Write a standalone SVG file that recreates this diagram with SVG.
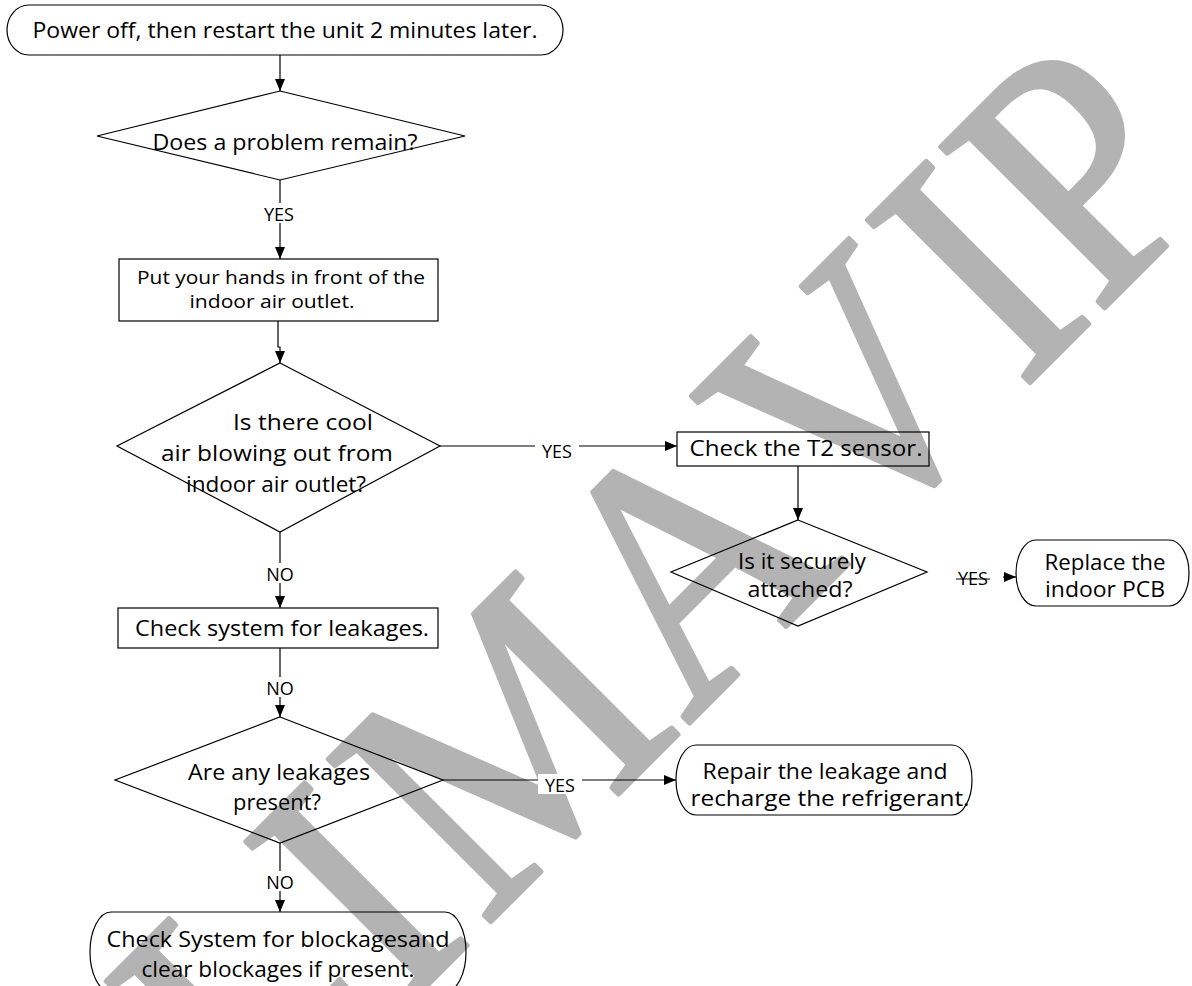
<svg xmlns="http://www.w3.org/2000/svg" width="1192" height="986" viewBox="0 0 1192 986">
<style>
.wm{font-family:"Liberation Serif","Times New Roman",serif;font-size:351px;fill:#b3b3b3;stroke:#b3b3b3;stroke-width:5;stroke-linejoin:round}
.sh{fill:none;stroke:#000;stroke-width:1.2}
.t{font-family:"Open Sans","Noto Sans",sans-serif;font-size:21.5px;fill:#000;text-anchor:middle}
.s{font-size:19px}
.lb{font-family:"Open Sans","Noto Sans",sans-serif;font-size:18px;fill:#000;text-anchor:middle}
.ln{fill:none;stroke:#000;stroke-width:1.2}
.bg{fill:#fff}
</style>
<defs>
<marker id="ar" viewBox="0 0 12 10" markerWidth="12" markerHeight="10" refX="12" refY="5" orient="auto" markerUnits="userSpaceOnUse">
<path d="M0,0 L12,5 L0,10 z" fill="#000"/>
</marker>
</defs>
<rect width="1192" height="986" fill="#fff"/>
<g id="watermark">
<text class="wm" transform="rotate(-45) translate(-628,998.8) scale(0.909,1)">L</text>
<text class="wm" transform="rotate(-45) translate(-433,998.8) scale(0.909,1)">I</text>
<text class="wm" transform="rotate(-45) translate(-314,998.8) scale(0.909,1)">M</text>
<text class="wm" transform="rotate(-45) translate(-27,998.8) scale(0.909,1)">A</text>
<text class="wm" transform="rotate(-45) translate(205,998.8) scale(0.909,1)">V</text>
<text class="wm" transform="rotate(-45) translate(446,998.8) scale(0.909,1)">I</text>
<text class="wm" transform="rotate(-45) translate(552,998.8) scale(0.909,1)">P</text>
</g>
<g id="connectors">
<path class="ln" d="M280,55 V91" marker-end="url(#ar)"/>
<path class="ln" d="M280,180 V259" marker-end="url(#ar)"/>
<path class="ln" d="M278,321 V347 H280 V363" marker-end="url(#ar)"/>
<path class="ln" d="M440,446 H677" marker-end="url(#ar)"/>
<path class="ln" d="M798,466 V520" marker-end="url(#ar)"/>
<path class="ln" d="M956,579 H990"/>
<path class="ln" d="M1003,577 H1016" marker-end="url(#ar)"/>
<path class="ln" d="M280,532 V608" marker-end="url(#ar)"/>
<path class="ln" d="M280,648 V717" marker-end="url(#ar)"/>
<path class="ln" d="M443,780 H676" marker-end="url(#ar)"/>
<path class="ln" d="M280,843 V912" marker-end="url(#ar)"/>
<rect class="bg" x="259" y="203" width="40" height="20"/>
<text class="lb" x="279" y="221">YES</text>
<rect class="bg" x="535" y="440" width="44" height="20"/>
<text class="lb" x="557" y="458">YES</text>
<text class="lb" x="973" y="585">YES</text>
<rect class="bg" x="262" y="563" width="36" height="20"/>
<text class="lb" x="280" y="581">NO</text>
<rect class="bg" x="262" y="677" width="36" height="20"/>
<text class="lb" x="280" y="695">NO</text>
<rect class="bg" x="538" y="774" width="44" height="20"/>
<text class="lb" x="560" y="792">YES</text>
<rect class="bg" x="262" y="871" width="36" height="20"/>
<text class="lb" x="280" y="889">NO</text>
</g>
<g id="start">
<path class="sh" d="M29,5 H541 A22,25 0 0 1 541,55 H29 A22,25 0 0 1 29,5 Z"/>
<text class="t" x="285" y="38" textLength="505" lengthAdjust="spacingAndGlyphs">Power off, then restart the unit 2 minutes later.</text>
</g>
<g id="q1">
<path class="sh" d="M280,91 L465,136 L280,180 L97,136 Z"/>
<text class="t" x="285" y="150" textLength="265" lengthAdjust="spacingAndGlyphs">Does a problem remain?</text>
</g>
<g id="hands">
<rect class="sh" x="119" y="259" width="319" height="62"/>
<text class="t s" x="281" y="284" textLength="288" lengthAdjust="spacingAndGlyphs">Put your hands in front of the</text>
<text class="t s" x="272" y="308" textLength="165" lengthAdjust="spacingAndGlyphs">indoor air outlet.</text>
</g>
<g id="q2">
<path class="sh" d="M280,363 L440,446 L280,532 L117,446 Z"/>
<text class="t" x="303" y="430" textLength="140" lengthAdjust="spacingAndGlyphs">Is there cool</text>
<text class="t" x="277" y="461" textLength="232" lengthAdjust="spacingAndGlyphs">air blowing out from</text>
<text class="t" x="276" y="492" textLength="180" lengthAdjust="spacingAndGlyphs">indoor air outlet?</text>
</g>
<g id="t2">
<rect class="sh" x="677" y="432" width="252" height="34"/>
<text class="t" x="806" y="456" textLength="233" lengthAdjust="spacingAndGlyphs">Check the T2 sensor.</text>
</g>
<g id="q3">
<path class="sh" d="M798,520 L927,572 L798,626 L671,572 Z"/>
<text class="t" x="802" y="569" textLength="128" lengthAdjust="spacingAndGlyphs">Is it securely</text>
<text class="t" x="800" y="597" textLength="105" lengthAdjust="spacingAndGlyphs">attached?</text>
</g>
<g id="pcb">
<path class="sh" d="M1036,540 H1169 A20,33 0 0 1 1169,606 H1036 A20,33 0 0 1 1036,540 Z"/>
<text class="t" x="1105" y="570" textLength="121" lengthAdjust="spacingAndGlyphs">Replace the</text>
<text class="t" x="1105" y="597" textLength="120" lengthAdjust="spacingAndGlyphs">indoor PCB</text>
</g>
<g id="leakcheck">
<rect class="sh" x="118" y="608" width="320" height="40"/>
<text class="t" x="282" y="636" textLength="294" lengthAdjust="spacingAndGlyphs">Check system for leakages.</text>
</g>
<g id="q4">
<path class="sh" d="M280,717 L443,780 L280,843 L115,780 Z"/>
<text class="t" x="279" y="780" textLength="182" lengthAdjust="spacingAndGlyphs">Are any leakages</text>
<text class="t" x="277" y="810" textLength="88" lengthAdjust="spacingAndGlyphs">present?</text>
</g>
<g id="repair">
<path class="sh" d="M696,745 H952 A20,35 0 0 1 952,815 H696 A20,35 0 0 1 696,745 Z"/>
<text class="t" x="825" y="779" textLength="245" lengthAdjust="spacingAndGlyphs">Repair the leakage and</text>
<text class="t" x="830" y="806" textLength="279" lengthAdjust="spacingAndGlyphs">recharge the refrigerant.</text>
</g>
<g id="blockage">
<path class="sh" d="M111,912 H445 A21,40 0 0 1 445,992 H111 A21,40 0 0 1 111,912 Z"/>
<text class="t" x="278" y="947" textLength="343" lengthAdjust="spacingAndGlyphs">Check System for blockagesand</text>
<text class="t" x="278" y="977" textLength="273" lengthAdjust="spacingAndGlyphs">clear blockages if present.</text>
</g>
</svg>
